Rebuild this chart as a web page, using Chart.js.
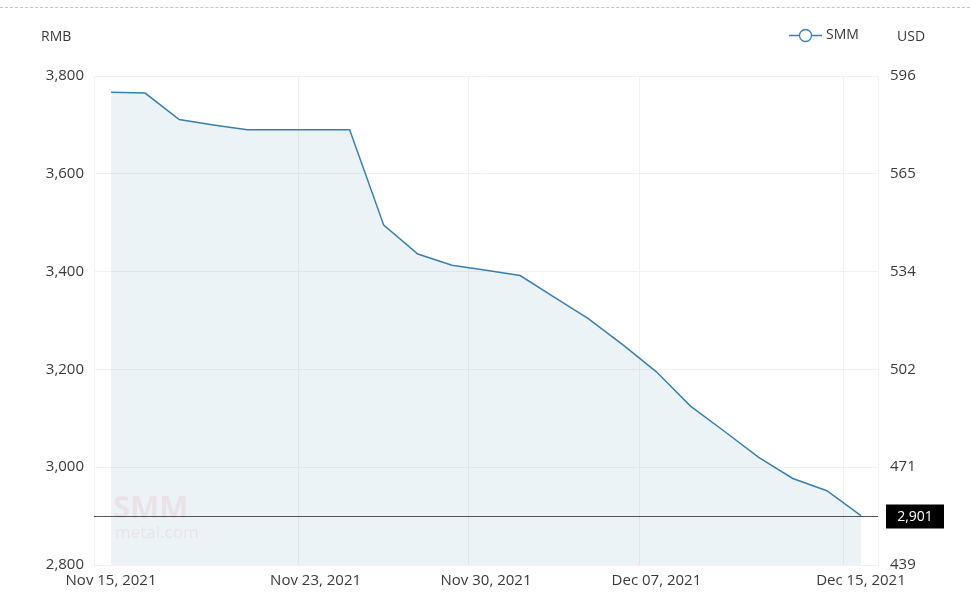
<!DOCTYPE html>
<html>
<head>
<meta charset="utf-8">
<script src="https://cdn.jsdelivr.net/npm/chart.js@4"></script>
<style>
  html, body { margin: 0; padding: 0; background: #fff; }
  #wrap { position: relative; width: 970px; height: 597px; }
  #topline { position: absolute; left: 0; top: 7px; width: 970px; border-top: 1px dashed #c4c4c4; }
</style>
</head>
<body>
<div id="wrap">
  <div id="topline"></div>
  <canvas id="chart" width="970" height="597"></canvas>
</div>
<script>
// trading days, Nov 15 - Dec 15 2021
const dates = [
  'Nov 15, 2021', 'Nov 16, 2021', 'Nov 17, 2021', 'Nov 18, 2021', 'Nov 19, 2021',
  'Nov 22, 2021', 'Nov 23, 2021', 'Nov 24, 2021', 'Nov 25, 2021', 'Nov 26, 2021',
  'Nov 29, 2021', 'Nov 30, 2021', 'Dec 01, 2021', 'Dec 02, 2021', 'Dec 03, 2021',
  'Dec 06, 2021', 'Dec 07, 2021', 'Dec 08, 2021', 'Dec 09, 2021', 'Dec 10, 2021',
  'Dec 13, 2021', 'Dec 14, 2021', 'Dec 15, 2021'
];
const prices = [
  3767, 3765, 3711, 3700, 3690,
  3690, 3690, 3690, 3495, 3436,
  3413, 3403, 3392, 3348, 3304,
  3251, 3195, 3125, 3073, 3020,
  2977, 2952, 2901
];
const shownLabels = [0, 6, 11, 16, 22];
const rmbTicks = [3800, 3600, 3400, 3200, 3000, 2800];
const usdTicks = [596, 565, 534, 502, 471, 439];

const lineColor = '#3b7fad';
const textColor = '#3a3a3a';
const fontFamily = '"Open Sans", "Noto Sans", sans-serif';

const extras = {
  id: 'extras',
  afterDatasetsDraw(chart) {
    const { ctx, chartArea, scales } = chart;
    const last = prices[prices.length - 1];
    const y = Math.round(scales.y.getPixelForValue(last)) + 0.5;

    // watermark
    ctx.save();
    ctx.fillStyle = 'rgba(215, 60, 60, 0.09)';
    ctx.font = 'bold 31px ' + fontFamily;
    ctx.textBaseline = 'alphabetic';
    ctx.fillText('SMM', 113, 518);
    ctx.font = '17px ' + fontFamily;
    ctx.fillText('metal.com', 115, 538);
    ctx.restore();

    // last value line + box
    ctx.save();
    ctx.strokeStyle = '#555';
    ctx.lineWidth = 1;
    ctx.beginPath();
    ctx.moveTo(chartArea.left, y);
    ctx.lineTo(chartArea.right, y);
    ctx.stroke();
    ctx.fillStyle = '#000';
    ctx.fillRect(886, y - 12, 58, 24);
    ctx.fillStyle = '#fff';
    ctx.font = '14px ' + fontFamily;
    ctx.textAlign = 'center';
    ctx.textBaseline = 'middle';
    ctx.fillText(last.toLocaleString('en-US'), 915, y + 1);
    ctx.restore();

    // axis units + legend
    ctx.save();
    ctx.fillStyle = textColor;
    ctx.font = '14px ' + fontFamily;
    ctx.textBaseline = 'middle';
    ctx.fillText('RMB', 41, 37);
    ctx.fillText('USD', 897, 37);
    ctx.fillText('SMM', 826, 35);
    ctx.strokeStyle = lineColor;
    ctx.lineWidth = 1.3;
    ctx.beginPath();
    ctx.moveTo(789, 35.5);
    ctx.lineTo(822, 35.5);
    ctx.stroke();
    ctx.beginPath();
    ctx.arc(805.5, 35.5, 6, 0, Math.PI * 2);
    ctx.fillStyle = '#fff';
    ctx.fill();
    ctx.stroke();
    ctx.restore();
  }
};

new Chart(document.getElementById('chart'), {
  type: 'line',
  data: {
    labels: dates,
    datasets: [{
      label: 'SMM',
      data: prices,
      borderColor: lineColor,
      borderWidth: 1.5,
      backgroundColor: 'rgba(70, 140, 180, 0.1)',
      fill: 'start',
      pointRadius: 0,
      tension: 0
    }]
  },
  options: {
    responsive: false,
    animation: false,
    layout: { padding: { top: 76, left: 0, right: 0, bottom: 0 } },
    plugins: { legend: { display: false }, tooltip: { enabled: false } },
    scales: {
      x: {
        type: 'category',
        offset: true,
        afterFit(s) { s.height = 32; },
        border: { display: false },
        grid: {
          offset: true,
          drawTicks: false,
          color: ctx => (ctx.index > 0 && shownLabels.includes(ctx.index)) ? '#f1f1f1' : 'transparent'
        },
        ticks: {
          autoSkip: false,
          maxRotation: 0,
          padding: 7,
          color: textColor,
          font: { family: fontFamily, size: 15 },
          callback: (v, i) => shownLabels.includes(i) ? dates[i] : ''
        }
      },
      y: {
        position: 'left',
        min: 2800,
        max: 3800,
        afterFit(s) { s.width = 94; },
        afterBuildTicks(s) { s.ticks = rmbTicks.map(v => ({ value: v })); },
        border: { display: true, color: '#f1f1f1' },
        grid: { color: '#f1f1f1', drawTicks: false },
        ticks: {
          padding: 10,
          color: textColor,
          font: { family: fontFamily, size: 15 },
          callback: v => v.toLocaleString('en-US')
        }
      },
      y2: {
        position: 'right',
        min: 2800,
        max: 3800,
        afterFit(s) { s.width = 92; },
        afterBuildTicks(s) { s.ticks = rmbTicks.map(v => ({ value: v })); },
        border: { display: true, color: '#f1f1f1' },
        grid: { display: false, drawTicks: false },
        ticks: {
          padding: 12,
          color: textColor,
          font: { family: fontFamily, size: 15 },
          callback: (v, i) => usdTicks[i]
        }
      }
    }
  },
  plugins: [extras]
});
</script>
</body>
</html>
